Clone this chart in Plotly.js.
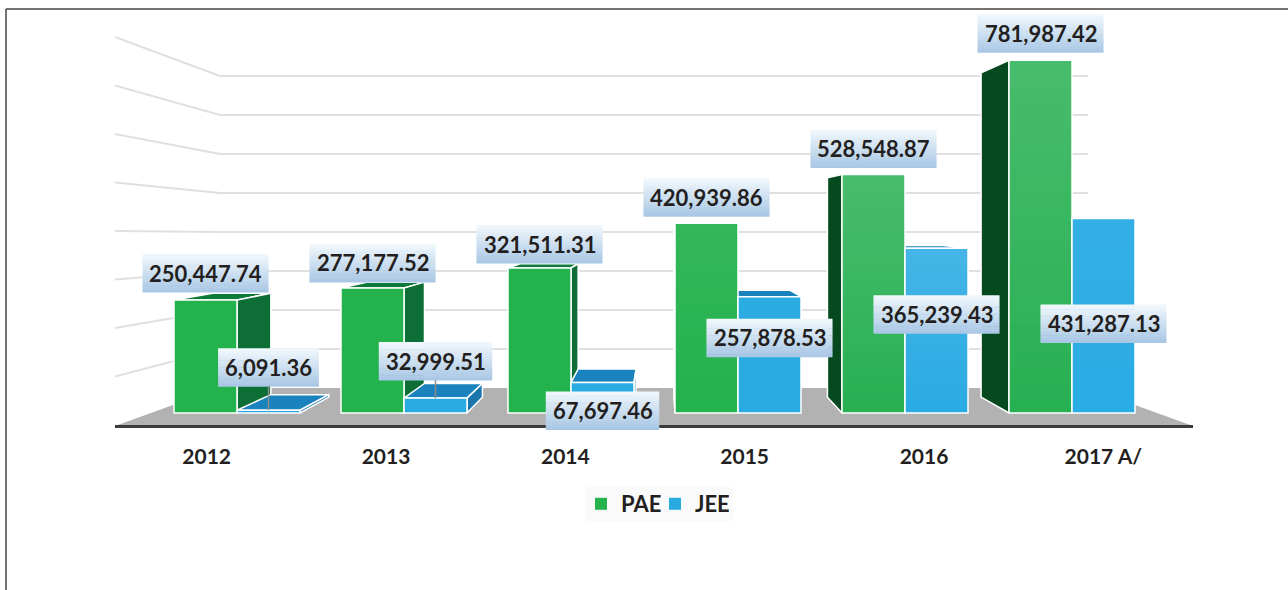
<!DOCTYPE html>
<html>
<head>
<meta charset="utf-8">
<script src="https://cdn.plot.ly/plotly-3.0.1.min.js"></script>
<style>html,body{margin:0;padding:0;background:#fff}#chart{width:1288px;height:590px}</style>
</head>
<body>
<div id="chart"></div>
<script>
const categories = ['2012', '2013', '2014', '2015', '2016', '2017 A/'];
const paeValues = [250447.74, 277177.52, 321511.31, 420939.86, 528548.87, 781987.42];
const jeeValues = [6091.36, 32999.51, 67697.46, 257878.53, 365239.43, 431287.13];
const paeLabels = ['250,447.74', '277,177.52', '321,511.31', '420,939.86', '528,548.87', '781,987.42'];
const jeeLabels = ['6,091.36', '32,999.51', '67,697.46', '257,878.53', '365,239.43', '431,287.13'];

// Placement of the value labels, in pixels above the top of each bar
const paeLabelShift = [27, 25, 24, 26, 26, 27];
const jeeLabelShift = [43, 37, -28, -41, -66, -105];
const paeColors = ['#23b24c', '#23b24c', '#23b24c', '#24b24d', '#27b052', '#27b052'];
const jeeColors = ['#29abe2', '#29abe2', '#2aace3', '#2aace3', '#2aabe3', '#2aace4'];
// Strength of the lighter sheen at the top of each bar
const paeSheen = [0, 0, 0, 0.07, 0.16, 0.16];
const jeeSheen = [0, 0, 0, 0, 0.13, 0.05];

const W = 1288, H = 590, BASE = 413, PX_PER_UNIT = 0.000451;
const GROUP0 = 237, GROUP_STEP = 167, BAR_W = 63 / 167;
const FONT = 'Lato, Carlito, sans-serif', TEXT = '#231f20';

const yRange = [BASE - H, BASE].map(p => p / PX_PER_UNIT);
const xRange = [-GROUP0 / GROUP_STEP, (W - GROUP0) / GROUP_STEP];
const indices = categories.map((_, i) => i);

// Oblique depth: the back of each bar shrinks towards one vanishing point
const vpK = (660 - GROUP0) / GROUP_STEP, vpV = (BASE - 215) / PX_PER_UNIT, SHRINK = 0.92;
const backX = k => vpK + (k - vpK) * SHRINK;
const backY = v => vpV + (v - vpV) * SHRINK;

function face(xs, ys, color) {
  return {type: 'scatter', mode: 'lines', x: [...xs, xs[0]], y: [...ys, ys[0]], fill: 'toself',
    fillcolor: color, line: {color: '#ffffff', width: 1.5}, showlegend: false, hoverinfo: 'skip',
    xaxis: 'x', yaxis: 'y'};
}
function bodyFaces(values, start, colors) {
  const out = [];
  values.forEach((v, i) => {
    const l = i + start, r = l + BAR_W;
    if (v < vpV * 0.9) out.push(face([l, r, backX(r), backX(l)], [v, v, backY(v), backY(v)], colors.top));
    if (r < vpK) out.push(face([r, backX(r), backX(r), r], [0, backY(0), backY(v), v], colors.right));
    if (l > vpK) out.push(face([l, backX(l), backX(l), l], [0, backY(0), backY(v), v], colors.left));
  });
  return out;
}

const traces = [
  ...bodyFaces(paeValues, -BAR_W, {top: '#0e7a3a', right: '#0d6e36', left: '#07491f'}),
  ...bodyFaces(jeeValues, 0, {top: '#1a83bd', right: '#1a76ab', left: '#1a76ab'}),
  {type: 'scatter', mode: 'markers', x: indices, y: indices.map(() => 0), marker: {opacity: 0},
    showlegend: false, hoverinfo: 'skip', xaxis: 'x2', yaxis: 'y2'},
  {type: 'bar', name: 'PAE', x: indices, y: paeValues, xaxis: 'x3', yaxis: 'y3', showlegend: false,
    marker: {color: paeColors, line: {color: '#ffffff', width: 1.5}}, hoverinfo: 'skip'},
  {type: 'bar', name: 'JEE', x: indices, y: jeeValues, xaxis: 'x3', yaxis: 'y3', showlegend: false,
    marker: {color: jeeColors, line: {color: '#ffffff', width: 1.5}}, hoverinfo: 'skip'},
  // Legend entries without the white bar outline, so the swatches stay full size
  {type: 'bar', name: '<b>PAE</b>', x: [0], y: [null], xaxis: 'x2', yaxis: 'y2', marker: {color: '#23b24c'}, hoverinfo: 'skip'},
  {type: 'bar', name: '<b>JEE</b>', x: [0], y: [null], xaxis: 'x2', yaxis: 'y2', marker: {color: '#29abe2'}, hoverinfo: 'skip'}
];

// Page furniture in paper fractions
const fx = p => p / W, fy = p => 1 - p / H;
const paperLine = (x0, y0, x1, y1, color, width) => ({type: 'line', xref: 'paper', yref: 'paper', layer: 'below',
  x0: fx(x0), y0: fy(y0), x1: fx(x1), y1: fy(y1), line: {color, width}});
const shapes = [
  paperLine(6, 9, W, 9, '#444444', 1.5),
  paperLine(6, 9, 6, H, '#444444', 1.5),
  {type: 'rect', xref: 'paper', yref: 'paper', layer: 'below', fillcolor: '#fafafa', line: {width: 0},
    x0: fx(585), x1: fx(733), y0: fy(521), y1: fy(487)},
  {type: 'path', xref: 'paper', yref: 'paper', layer: 'below', fillcolor: '#b2b2b2', line: {width: 0},
    path: `M ${fx(115)} ${fy(426)} L ${fx(1193)} ${fy(426)} L ${fx(1088)} ${fy(388)} L ${fx(220)} ${fy(388)} Z`},
  paperLine(115, 426.5, 1193, 426.5, '#3c3c3c', 3)
];
for (let n = 1; n <= 8; n++) {
  const back = 388 - 39 * n, front = 425 - 48.5 * n;
  shapes.push(paperLine(115, front, 220, back, '#e0e0e0', 2));
  shapes.push(paperLine(220, back, 1088, back, '#e0e0e0', 2));
}

// Sheen on the front of the taller bars
const SHEEN_STRIPS = 24;
function addSheen(left, value, strength) {
  if (!strength) return;
  for (let s = 0; s < SHEEN_STRIPS; s++) {
    shapes.push({type: 'rect', layer: 'above', xref: 'x', yref: 'y', x0: left, x1: left + BAR_W,
      y0: value * s / SHEEN_STRIPS, y1: value * (s + 1) / SHEEN_STRIPS,
      fillcolor: `rgba(255,255,255,${(strength * (s + 0.5) / SHEEN_STRIPS).toFixed(3)})`, line: {width: 0}});
  }
}
indices.forEach(i => {
  addSheen(i - BAR_W, paeValues[i], paeSheen[i]);
  addSheen(i, jeeValues[i], jeeSheen[i]);
});

// Value labels: a stack of thin strips gives the white-to-blue gradient
const annotations = [];
const BOX_H = 38, STRIPS = 16;
const gradTop = [240, 247, 252], gradBottom = [170, 200, 229];
function addLabel(k, value, text, shift) {
  const w = text.length * 12.6;
  for (let s = 0; s < STRIPS; s++) {
    const t = s / (STRIPS - 1);
    const c = gradTop.map((a, j) => Math.round(a + (gradBottom[j] - a) * t));
    const hi = shift + BOX_H / 2 - s * BOX_H / STRIPS;
    shapes.push({type: 'rect', layer: 'above', xref: 'x', yref: 'y',
      xsizemode: 'pixel', ysizemode: 'pixel', xanchor: k, yanchor: value,
      x0: -w / 2, x1: w / 2, y0: hi, y1: hi - BOX_H / STRIPS - 0.5,
      fillcolor: `rgb(${c.join(',')})`, line: {width: 0}});
  }
  annotations.push({xref: 'x', yref: 'y', x: k, y: value, yshift: shift, yanchor: 'middle', xanchor: 'center',
    showarrow: false, text: `<b>${text}</b>`, font: {family: FONT, size: 22, color: TEXT}});
}
indices.forEach(i => {
  addLabel(i - BAR_W / 2, paeValues[i], paeLabels[i], paeLabelShift[i]);
  addLabel(i + BAR_W / 2, jeeValues[i], jeeLabels[i], jeeLabelShift[i]);
  if (jeeLabelShift[i] > BOX_H / 2) {
    shapes.push({type: 'line', layer: 'above', xref: 'x', yref: 'y', x0: i + BAR_W / 2, x1: i + BAR_W / 2,
      y0: jeeValues[i], y1: jeeValues[i] + (jeeLabelShift[i] - BOX_H / 2) / PX_PER_UNIT,
      line: {color: '#8c8c8c', width: 1.5}});
  }
});

const hidden = {visible: false, showgrid: false, zeroline: false, fixedrange: true};
const layout = {
  width: W, height: H, margin: {l: 0, r: 0, t: 0, b: 0},
  paper_bgcolor: '#ffffff', plot_bgcolor: 'rgba(0,0,0,0)',
  barmode: 'group', bargap: 1 - 2 * BAR_W, bargroupgap: 0,
  xaxis: {...hidden, range: xRange, domain: [0, 1]},
  yaxis: {...hidden, range: yRange, domain: [0, 1]},
  xaxis3: {...hidden, range: xRange, overlaying: 'x', anchor: 'y3'},
  yaxis3: {...hidden, range: yRange, overlaying: 'y', anchor: 'x3'},
  xaxis2: {range: [-0.5, 5.5], domain: [fx(117), fx(1193)], anchor: 'y2', tickmode: 'array', tickvals: indices,
    ticktext: categories.map(c => `<b>${c}</b>`), showgrid: false, zeroline: false, showline: false, ticks: '',
    fixedrange: true, tickfont: {family: FONT, size: 21, color: TEXT}},
  yaxis2: {...hidden, range: [0, 1], domain: [fy(442), 1], anchor: 'x2'},
  showlegend: true,
  legend: {orientation: 'h', x: fx(581), y: fy(483), xanchor: 'left', yanchor: 'top', bgcolor: 'rgba(0,0,0,0)',
    borderwidth: 0, traceorder: 'normal', font: {family: FONT, size: 22, color: TEXT},
    entrywidth: 29, entrywidthmode: 'pixels', itemclick: false, itemdoubleclick: false},
  shapes, annotations
};
Plotly.newPlot('chart', traces, layout, {displayModeBar: false, staticPlot: true});
</script>
</body>
</html>
